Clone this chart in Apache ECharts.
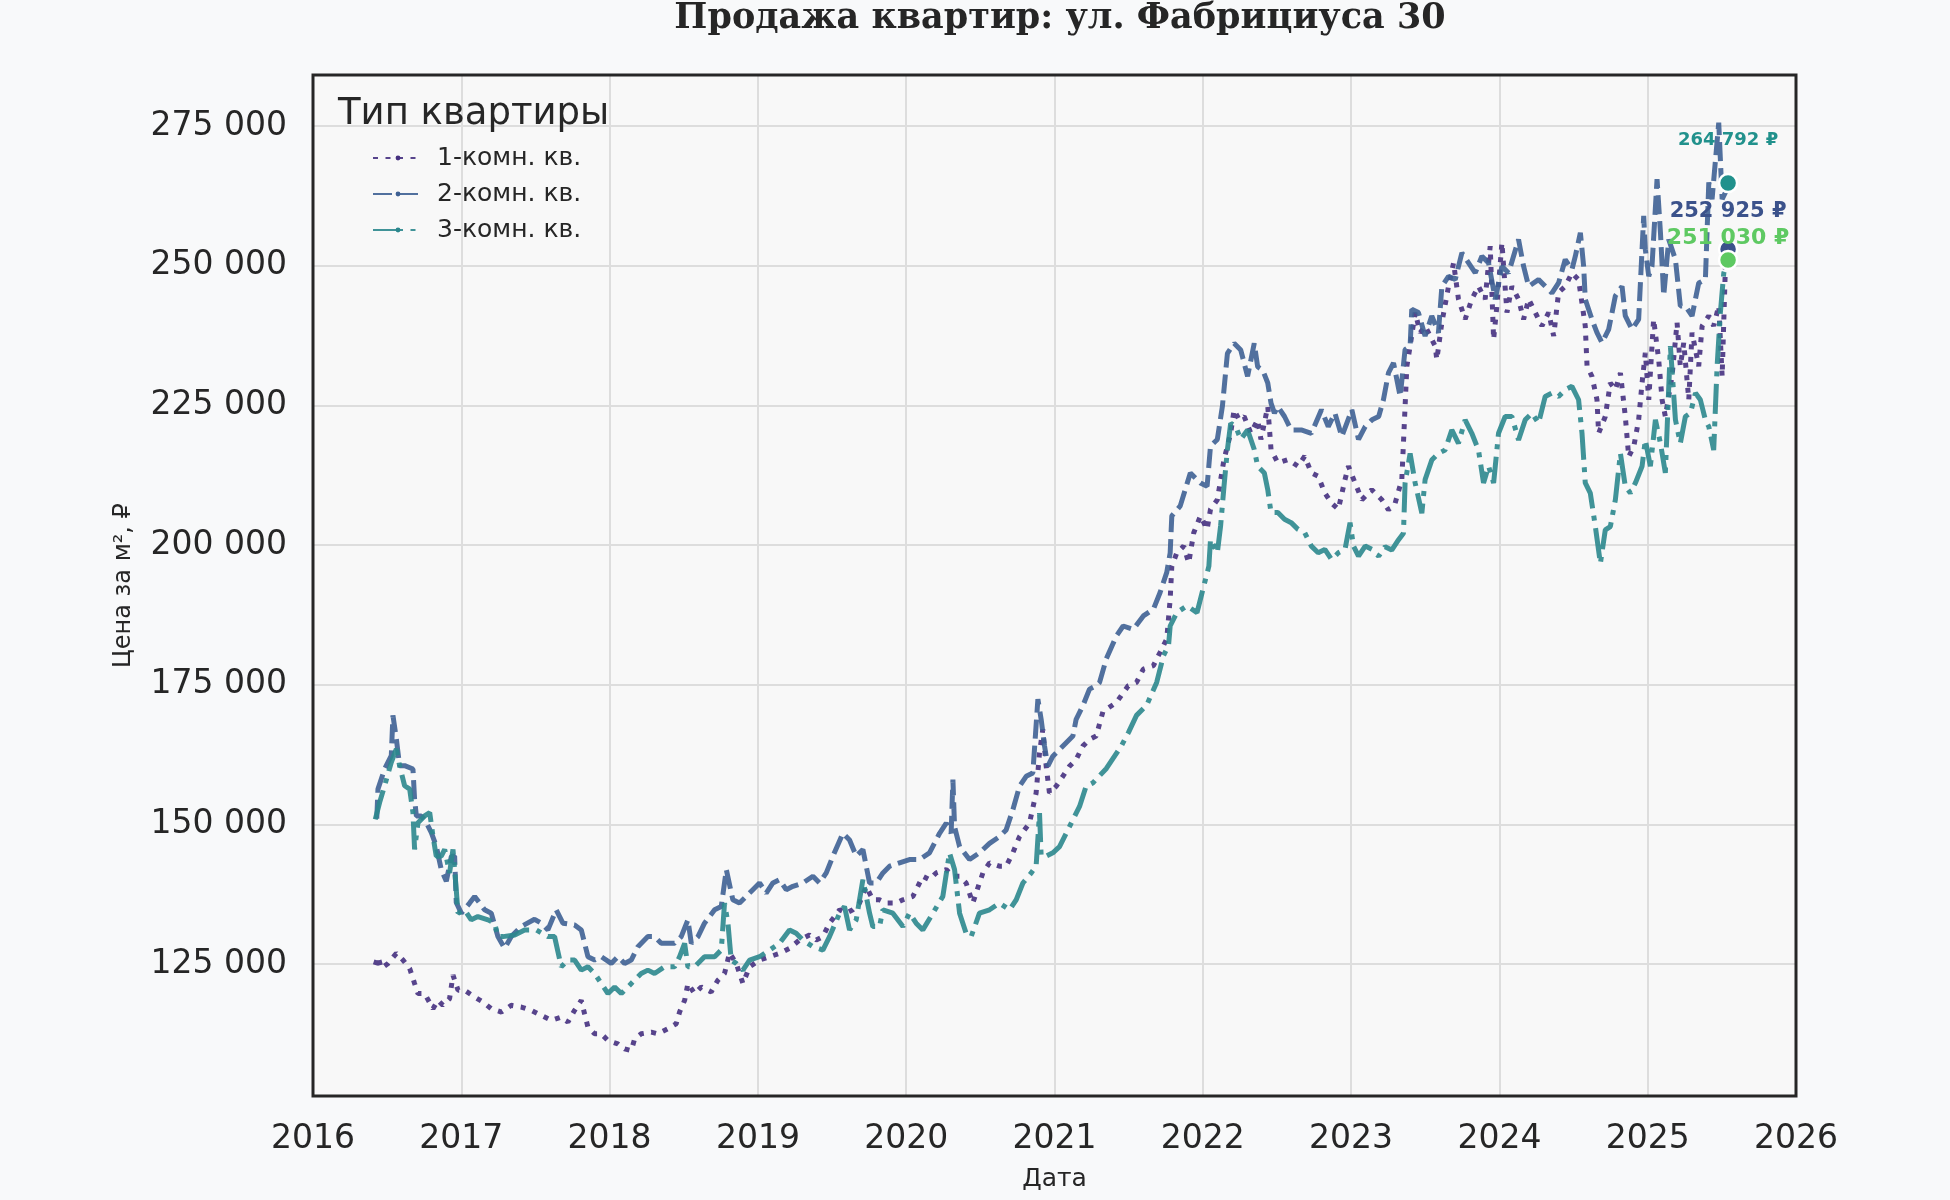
<!DOCTYPE html>
<html>
<head>
<meta charset="utf-8">
<script src="https://cdn.jsdelivr.net/npm/echarts@6/dist/echarts.min.js"></script>
<style>
  html, body { margin: 0; padding: 0; background: #f8f9fa; }
  #chart { width: 1950px; height: 1200px; }
</style>
</head>
<body>
<div id="chart"></div>
<script>
const chartTitle = 'Продажа квартир: ул. Фабрициуса 30';
const seriesNames = ['1-комн. кв.', '2-комн. кв.', '3-комн. кв.'];
const yTicks = [125000, 150000, 175000, 200000, 225000, 250000, 275000];

// 1-комн.
const s1Years = [2016.42,2016.438,2016.461,2016.506,2016.562,2016.607,2016.652,2016.685,2016.708,2016.753,2016.809,2016.843,2016.876,2016.921,2016.944,2016.978,
  2017.022,2017.09,2017.146,2017.202,2017.27,2017.337,2017.404,2017.472,2017.539,2017.607,2017.674,2017.719,2017.764,2017.809,2017.831,2017.854,2017.899,2017.944,2017.989,
  2018.056,2018.101,2018.146,2018.169,2018.213,2018.281,2018.326,2018.393,2018.449,2018.472,2018.506,2018.528,2018.573,2018.618,2018.685,2018.73,2018.775,2018.809,2018.854,2018.899,2018.944,
  2019.011,2019.079,2019.146,2019.213,2019.281,2019.348,2019.393,2019.438,2019.483,2019.551,2019.596,2019.64,2019.685,2019.73,2019.775,2019.82,2019.865,2019.933,2019.978,
  2020.045,2020.112,2020.157,2020.202,2020.27,2020.315,2020.36,2020.404,2020.449,2020.494,2020.517,2020.562,2020.629,2020.674,2020.719,2020.764,2020.831,2020.876,2020.899,2020.921,2020.944,2020.966,
  2021.011,2021.056,2021.101,2021.146,2021.191,2021.236,2021.281,2021.327,2021.417,2021.497,2021.553,2021.599,2021.667,2021.712,2021.757,2021.78,2021.791,2021.825,2021.871,2021.905,2021.939,2021.984,
  2022.029,2022.052,2022.098,2022.143,2022.188,2022.211,2022.245,2022.279,2022.324,2022.37,2022.392,2022.438,2022.46,2022.506,2022.574,2022.642,2022.687,2022.732,2022.778,2022.823,2022.868,2022.914,2022.959,2022.982,
  2023.027,2023.073,2023.139,2023.207,2023.252,2023.297,2023.342,2023.364,2023.376,2023.398,2023.432,2023.466,2023.499,2023.567,2023.578,2023.612,2023.657,2023.691,2023.724,2023.769,2023.814,2023.859,2023.904,2023.938,2023.961,2023.983,
  2024.017,2024.051,2024.084,2024.129,2024.163,2024.197,2024.242,2024.287,2024.332,2024.366,2024.399,2024.444,2024.489,2024.534,2024.579,2024.591,2024.624,2024.658,2024.669,2024.714,2024.748,2024.782,2024.816,2024.849,2024.872,2024.906,2024.939,2024.962,2024.984,
  2025.007,2025.04,2025.074,2025.097,2025.119,2025.164,2025.198,2025.22,2025.243,2025.277,2025.299,2025.344,2025.367,2025.412,2025.445,2025.479,2025.502,2025.524,2025.542];
const s1Prices = [124800,126300,124200,125100,126900,125700,124200,121500,119700,119700,117000,118500,117600,118800,123000,120300,
  120300,119100,118200,117000,116400,117600,117300,116700,115800,114900,115500,114600,116700,118500,116100,113700,112500,112500,111300,
  110700,109800,109500,111600,112500,112800,112500,113400,114300,116400,118500,121500,119700,120900,120000,122100,123300,127000,125100,121500,124500,
  125700,126300,126900,127800,129300,130200,129300,129900,132300,134700,134100,134700,135900,138900,136500,136500,135900,135900,136500,
  137100,140700,140100,141300,141900,140700,140700,139500,135900,139500,141300,143100,142500,142500,144900,147800,150200,155600,162800,167000,160400,155600,
  156800,158600,160400,161600,164000,165200,165800,170200,171800,174800,175400,177800,178400,180800,183200,190300,196200,198600,199800,196800,202200,205200,
  202800,206400,208100,215300,220000,224200,222400,223000,220000,222400,218900,224800,217100,214700,215300,214100,215900,212900,212300,209300,207500,206400,211700,214100,
  211100,208100,209900,208100,206300,207500,211700,224800,232000,235600,241600,238000,239200,235600,233200,239800,246300,250500,244000,240400,244000,246300,244000,253500,236800,242800,
  254100,241600,246300,244000,240400,244000,241600,239200,241600,237400,245200,246300,248700,247500,239200,232000,230200,226000,220000,223000,229000,227800,230800,223000,215800,217600,222400,229000,234400,
  226000,240400,233200,226000,223000,230200,239800,232000,236200,226000,238000,232000,239200,241000,239200,242800,230200,249900,252925];

// 2-комн.
const s2Years = [2016.43,2016.438,2016.483,2016.528,2016.539,2016.562,2016.584,2016.618,2016.674,2016.685,2016.697,2016.73,2016.764,2016.798,2016.831,2016.865,2016.899,2016.933,2016.955,2016.966,
  2017.0,2017.056,2017.09,2017.157,2017.202,2017.247,2017.292,2017.337,2017.404,2017.494,2017.539,2017.584,2017.64,2017.685,2017.764,2017.809,2017.854,2017.899,2017.944,
  2018.011,2018.056,2018.101,2018.146,2018.191,2018.258,2018.303,2018.348,2018.438,2018.483,2018.528,2018.551,2018.596,2018.64,2018.708,2018.753,2018.787,2018.831,2018.876,2018.921,2018.966,
  2019.011,2019.056,2019.101,2019.146,2019.191,2019.236,2019.303,2019.371,2019.416,2019.461,2019.506,2019.573,2019.618,2019.663,2019.708,2019.753,2019.798,2019.843,2019.888,2019.955,
  2020.022,2020.09,2020.157,2020.225,2020.27,2020.303,2020.315,2020.326,2020.36,2020.427,2020.494,2020.562,2020.629,2020.674,2020.719,2020.764,2020.809,2020.854,2020.888,2020.91,2020.933,2020.955,2020.989,
  2021.034,2021.079,2021.124,2021.146,2021.191,2021.236,2021.281,2021.304,2021.349,2021.417,2021.463,2021.531,2021.599,2021.667,2021.712,2021.757,2021.78,2021.791,2021.848,2021.916,2021.984,
  2022.029,2022.052,2022.098,2022.132,2022.166,2022.211,2022.256,2022.302,2022.347,2022.37,2022.404,2022.438,2022.46,2022.483,2022.506,2022.551,2022.596,2022.664,2022.732,2022.8,2022.846,2022.891,2022.937,
  2023.005,2023.05,2023.095,2023.141,2023.186,2023.218,2023.252,2023.286,2023.331,2023.364,2023.398,2023.409,2023.454,2023.499,2023.544,2023.589,2023.612,2023.657,2023.702,2023.747,2023.792,2023.837,2023.882,2023.927,2023.972,
  2024.017,2024.062,2024.129,2024.163,2024.197,2024.264,2024.309,2024.354,2024.399,2024.444,2024.489,2024.512,2024.546,2024.568,2024.579,2024.624,2024.658,2024.692,2024.737,2024.782,2024.827,2024.849,2024.894,2024.939,2024.973,2024.984,
  2025.007,2025.029,2025.063,2025.086,2025.108,2025.142,2025.187,2025.22,2025.254,2025.299,2025.344,2025.389,2025.412,2025.434,2025.479,2025.502,2025.524,2025.542];
const s2Prices = [151000,156300,159900,162300,169500,165300,160500,160500,159900,154500,151500,151500,150300,148500,146100,141900,139800,144300,144300,136000,
  134100,135900,137100,134700,134100,129900,127800,129900,131700,133000,132300,131100,134700,132300,132000,131100,126300,125700,126300,
  125100,126300,125100,125700,128100,129900,129900,128700,128700,129900,132900,128700,129900,132300,134700,135300,141900,136500,135900,137100,138300,
  139500,137700,139500,140100,138300,138900,139500,140700,139500,141300,144300,148400,147200,144300,145500,139500,139500,141300,142500,143100,
  143700,143700,144900,148400,150200,148400,158000,149600,146000,143700,144900,146600,147800,149000,152600,156800,158600,159200,172400,168800,164000,160400,162200,
  163400,164600,165800,168800,171200,174200,174800,175400,179600,183700,185500,184900,187300,188500,191500,195100,198600,205200,207000,212900,211100,
  210500,217700,218900,224800,234300,236100,234900,230200,236100,231900,231300,229000,225400,223600,224800,223000,220600,220600,220000,224200,221200,223600,219400,
  224200,218900,221200,222400,223000,226000,230800,232600,226600,235000,235600,242200,241600,237400,241000,238000,246300,248100,247500,252300,250500,248700,251700,250500,244000,
  249900,248700,254700,249900,246300,247500,246300,245100,246900,251100,249300,251700,255900,249900,244000,240400,238000,236200,238600,244600,246300,241000,238600,240400,258900,252900,
  248100,249900,265500,255900,244600,254700,251100,242800,242800,241000,246900,247500,264900,261900,275600,261900,263100,264792];

// 3-комн.
const s3Years = [2016.42,2016.449,2016.483,2016.528,2016.562,2016.584,2016.618,2016.652,2016.674,2016.685,2016.708,2016.753,2016.787,2016.809,2016.831,2016.865,2016.888,2016.921,2016.944,2016.966,2016.978,
  2017.022,2017.067,2017.112,2017.18,2017.225,2017.247,2017.281,2017.36,2017.427,2017.506,2017.584,2017.629,2017.674,2017.719,2017.764,2017.809,2017.854,2017.899,2017.944,2017.989,
  2018.034,2018.079,2018.146,2018.213,2018.258,2018.303,2018.371,2018.438,2018.472,2018.506,2018.528,2018.573,2018.64,2018.708,2018.753,2018.775,2018.798,2018.82,2018.854,2018.899,2018.944,
  2019.011,2019.079,2019.146,2019.213,2019.258,2019.303,2019.371,2019.438,2019.483,2019.551,2019.584,2019.618,2019.663,2019.708,2019.753,2019.775,2019.82,2019.843,2019.91,2019.978,
  2020.022,2020.067,2020.112,2020.18,2020.247,2020.292,2020.326,2020.36,2020.404,2020.438,2020.494,2020.562,2020.629,2020.697,2020.742,2020.787,2020.843,2020.876,2020.899,2020.91,2020.944,2020.989,
  2021.034,2021.079,2021.124,2021.169,2021.213,2021.258,2021.35,2021.45,2021.5,2021.553,2021.621,2021.689,2021.735,2021.769,2021.78,2021.825,2021.893,2021.961,
  2022.007,2022.041,2022.052,2022.098,2022.12,2022.143,2022.166,2022.188,2022.222,2022.256,2022.302,2022.347,2022.37,2022.415,2022.438,2022.46,2022.506,2022.551,2022.596,2022.642,2022.687,2022.732,2022.778,2022.823,2022.868,2022.914,2022.959,2022.993,
  2023.016,2023.05,2023.095,2023.141,2023.186,2023.229,2023.274,2023.319,2023.353,2023.364,2023.398,2023.432,2023.477,2023.499,2023.544,2023.589,2023.634,2023.679,2023.724,2023.769,2023.814,2023.859,2023.893,2023.927,2023.961,2023.994,
  2024.039,2024.084,2024.129,2024.174,2024.219,2024.264,2024.309,2024.354,2024.399,2024.444,2024.489,2024.534,2024.557,2024.579,2024.613,2024.647,2024.681,2024.714,2024.748,2024.782,2024.816,2024.849,2024.883,2024.917,2024.962,2024.984,
  2025.018,2025.052,2025.086,2025.119,2025.153,2025.187,2025.22,2025.254,2025.288,2025.322,2025.355,2025.389,2025.412,2025.445,2025.468,2025.49,2025.513,2025.542];
const s3Prices = [150900,153900,156900,161100,163500,160500,156900,156300,152100,145500,150300,151500,152100,147900,144300,144300,145500,141300,145500,138300,134100,
  134700,132900,133500,132900,132300,129900,129900,130200,131100,131100,129900,129900,124500,125700,125700,123900,124500,123300,121500,119700,
  120900,119700,121500,123300,123900,123300,124500,124500,126300,128700,124500,124500,126300,126300,127500,135900,132300,125700,125100,123900,125700,
  126300,127500,128700,131100,130500,129300,128100,127500,129900,134100,135300,131100,132900,140100,134100,131700,131700,134700,134100,131700,
  134100,132300,131100,134100,137100,144900,141900,134100,130500,129900,134100,134700,135900,134700,136500,139500,141300,142500,152000,144300,144300,144900,
  146000,148400,150800,153200,156800,157400,160000,164000,166500,169500,171300,175400,180200,182000,185500,187900,189100,187900,
  192700,196200,201000,198600,203400,210500,217100,221800,221200,218900,220600,217100,214100,212900,209900,205800,205800,204600,204000,202800,202200,199800,198600,199200,197400,198600,199200,204000,
  199800,198000,199800,199200,198000,199700,199100,200900,202100,211100,216400,211100,205700,211700,215200,216400,217000,220600,218200,222400,220000,217000,211100,214100,211100,220000,
  223000,223000,218800,222400,223600,221800,226600,227200,226600,227800,228400,226000,220000,211100,209300,203300,196700,202700,203300,208100,216400,210500,209300,211100,214100,218800,
  214100,222400,218200,212900,235600,222400,218200,223000,223600,227200,226000,222400,221200,217000,232000,241600,248700,251030];

// последние значения (маркеры)
const lastYear = 2025.542;
const lastValues = [252925, 264792, 251030];
const lastLabels = ['252 925 ₽', '264 792 ₽', '251 030 ₽'];

const lineColors = ['#45307f', '#3e6093', '#2b878d'];
const markerColors = ['#3b528b', '#21918c', '#5ec962'];
const dashes = [[5, 7.5], [19, 7], [30, 7.5, 5, 7.5]];

const zip = (xs, ys) => xs.map((x, i) => [x, ys[i]]);
const fmtNum = v => String(v).replace(/\B(?=(\d{3})+(?!\d))/g, ' ');
const FONT = 'DejaVu Sans';
const TEXT = '#262626';

// область построения (пиксели)
const G = { left: 313, right: 154, top: 75, bottom: 104 };

const chart = echarts.init(document.getElementById('chart'), null, { renderer: 'canvas' });

const lineSeries = [[s1Years, s1Prices], [s2Years, s2Prices], [s3Years, s3Prices]].map((s, i) => ({
  name: seriesNames[i],
  type: 'line',
  data: zip(s[0], s[1]),
  showSymbol: false,
  symbol: 'none',
  smooth: false,
  z: 3 + i,
  itemStyle: { color: lineColors[i] },
  lineStyle: { color: lineColors[i], width: 5, type: dashes[i], opacity: 0.9, cap: 'butt' }
}));

// порядок отрисовки маркеров: 2-комн., 1-комн., 3-комн.
const labelSizes = [21, 18, 22];
const labelDist = [17, 23, 0];
const markerSeries = [1, 0, 2].map(i => ({
  name: 'last' + i,
  type: 'scatter',
  data: [[lastYear, lastValues[i]]],
  symbolSize: 18,
  z: 10 + i,
  itemStyle: { color: markerColors[i], borderColor: '#ffffff', borderWidth: 2.5, opacity: 1 },
  label: {
    show: true,
    position: 'top',
    distance: labelDist[i],
    formatter: lastLabels[i],
    fontFamily: FONT,
    fontWeight: 'bold',
    fontSize: labelSizes[i],
    color: markerColors[i]
  },
  emphasis: { disabled: true }
}));

chart.setOption({
  backgroundColor: '#f8f9fa',
  animation: false,
  title: [{
    text: chartTitle,
    left: 1055,
    top: -4,
    textAlign: 'center',
    textStyle: { fontFamily: 'DejaVu Serif', fontWeight: 'bold', fontSize: 35, color: TEXT }
  }, {
    text: 'Тип квартиры',
    left: 333,
    top: 91,
    textStyle: { fontFamily: FONT, fontWeight: 'normal', fontSize: 37, color: TEXT }
  }],
  legend: {
    data: seriesNames,
    orient: 'vertical',
    left: 367,
    top: 139,
    itemWidth: 50,
    itemHeight: 6,
    itemGap: 8,
    textStyle: { fontFamily: FONT, fontSize: 25, color: TEXT, lineHeight: 28, padding: [0, 0, 0, 9] }
  },
  grid: {
    left: G.left, right: G.right, top: G.top, bottom: G.bottom,
    show: true,
    backgroundColor: '#f8f8f8',
    borderWidth: 0
  },
  graphic: [{
    type: 'rect',
    z: 100,
    silent: true,
    shape: { x: G.left, y: G.top, width: 1950 - G.left - G.right, height: 1200 - G.top - G.bottom },
    style: { fill: 'none', stroke: '#262626', lineWidth: 3 }
  }],
  xAxis: {
    type: 'value',
    min: 2016,
    max: 2026,
    interval: 1,
    name: 'Дата',
    nameLocation: 'middle',
    nameGap: 71,
    nameTextStyle: { fontFamily: FONT, fontSize: 25, color: TEXT },
    axisLine: { show: false },
    axisTick: { show: false },
    axisLabel: { formatter: v => String(v), fontFamily: FONT, fontSize: 33, color: TEXT, margin: 27 },
    splitLine: { show: true, lineStyle: { color: '#dddddd', width: 2 } }
  },
  yAxis: {
    type: 'value',
    min: 101370,
    max: 284130,
    name: 'Цена за м², ₽',
    nameLocation: 'middle',
    nameGap: 177,
    nameTextStyle: { fontFamily: FONT, fontSize: 24, color: TEXT },
    axisLine: { show: false },
    axisTick: { show: false, customValues: yTicks },
    axisLabel: { customValues: yTicks, formatter: v => fmtNum(v), fontFamily: FONT, fontSize: 33, color: TEXT, margin: 26, padding: [5, 0, 0, 0] },
    splitLine: { show: true, lineStyle: { color: '#dddddd', width: 2 } }
  },
  series: lineSeries.concat(markerSeries)
});
</script>
</body>
</html>
